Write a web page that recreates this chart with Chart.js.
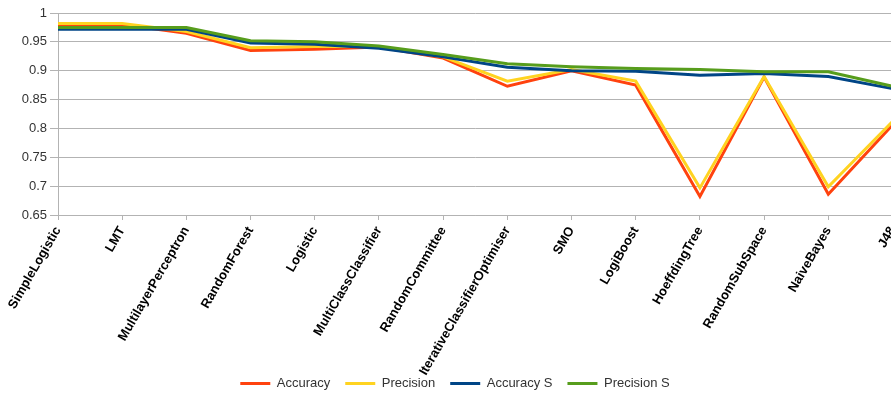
<!DOCTYPE html>
<html>
<head>
<meta charset="utf-8">
<script src="https://cdn.jsdelivr.net/npm/chart.js@4"></script>
<style>
  html, body { margin: 0; padding: 0; overflow: hidden; background: #fff; }
  #wrap { width: 910px; height: 396px; }
</style>
</head>
<body>
<div id="wrap"><canvas id="chart" width="910" height="396"></canvas></div>
<script>
// classifiers on the x axis
const classifiers = ['SimpleLogistic', 'LMT', 'MultilayerPerceptron', 'RandomForest', 'Logistic',
  'MultiClassClassifier', 'RandomCommittee', 'IterativeClassifierOptimiser', 'SMO', 'LogiBoost',
  'HoeffdingTree', 'RandomSubSpace', 'NaiveBayes', 'J48'];

// series values
const accuracy   = [0.980, 0.980, 0.965, 0.935, 0.937, 0.941, 0.922, 0.873, 0.900, 0.875, 0.682, 0.889, 0.686, 0.806];
const precision  = [0.982, 0.982, 0.968, 0.940, 0.942, 0.942, 0.924, 0.882, 0.902, 0.882, 0.697, 0.890, 0.699, 0.812];
const accuracyS  = [0.972, 0.972, 0.972, 0.948, 0.946, 0.939, 0.924, 0.906, 0.900, 0.899, 0.892, 0.895, 0.890, 0.869];
const precisionS = [0.975, 0.975, 0.975, 0.952, 0.950, 0.943, 0.928, 0.912, 0.907, 0.904, 0.902, 0.898, 0.898, 0.873];

const yTicks = [0.65, 0.7, 0.75, 0.8, 0.85, 0.9, 0.95, 1];

const font = 'Liberation Sans, Arial, sans-serif';

function line(label, data, color, order) {
    return {
        label: label,
        data: data,
        borderColor: color,
        backgroundColor: color,
        borderWidth: 3,
        pointRadius: 0,
        tension: 0,
        fill: false,
        order: order
    };
}

// legend box is too tall with wide item padding, trim it
const legendFit = {
    id: 'legendFit',
    afterInit(chart) {
        const orig = chart.legend.fit;
        chart.legend.fit = function () {
            orig.call(this);
            this.height = 34;
        };
    }
};

new Chart(document.getElementById('chart'), {
    type: 'line',
    data: {
        labels: classifiers,
        datasets: [
            line('Accuracy', accuracy, '#ff420e', 4),
            line('Precision', precision, '#ffd320', 3),
            line('Accuracy S', accuracyS, '#004586', 2),
            line('Precision S', precisionS, '#579d1c', 1)
        ]
    },
    plugins: [legendFit],
    options: {
        responsive: false,
        animation: false,
        layout: { padding: { top: 13, right: 12, left: 12, bottom: 0 } },
        plugins: {
            tooltip: { enabled: false },
            legend: {
                position: 'bottom',
                labels: {
                    usePointStyle: true,
                    pointStyle: 'line',
                    pointStyleWidth: 30,
                    padding: 15,
                    color: '#333',
                    font: { family: font, size: 13 },
                    sort: (a, b) => a.datasetIndex - b.datasetIndex
                }
            }
        },
        scales: {
            x: {
                offset: false,
                afterFit: (scale) => {
                    scale.height = 147;
                    // let the long label run into the legend like the original
                    scale._computeLabelArea = () => null;
                },
                grid: { drawOnChartArea: false, drawTicks: true, tickLength: 5, color: '#b3b3b3' },
                border: { color: '#b3b3b3' },
                ticks: {
                    autoSkip: false,
                    maxRotation: 60,
                    minRotation: 60,
                    padding: 4,
                    color: '#000',
                    font: { family: font, size: 13, weight: 'bold' }
                }
            },
            y: {
                min: 0.65,
                max: 1,
                afterBuildTicks: (scale) => { scale.ticks = yTicks.map(v => ({ value: v })); },
                afterFit: (scale) => { scale.width = 46; },
                grid: { color: '#b3b3b3', drawTicks: true, tickLength: 8 },
                border: { color: '#b3b3b3' },
                ticks: {
                    padding: 3,
                    color: '#333',
                    font: { family: font, size: 13 },
                    callback: (v) => String(Math.round(v * 100) / 100)
                }
            }
        }
    }
});
</script>
</body>
</html>
